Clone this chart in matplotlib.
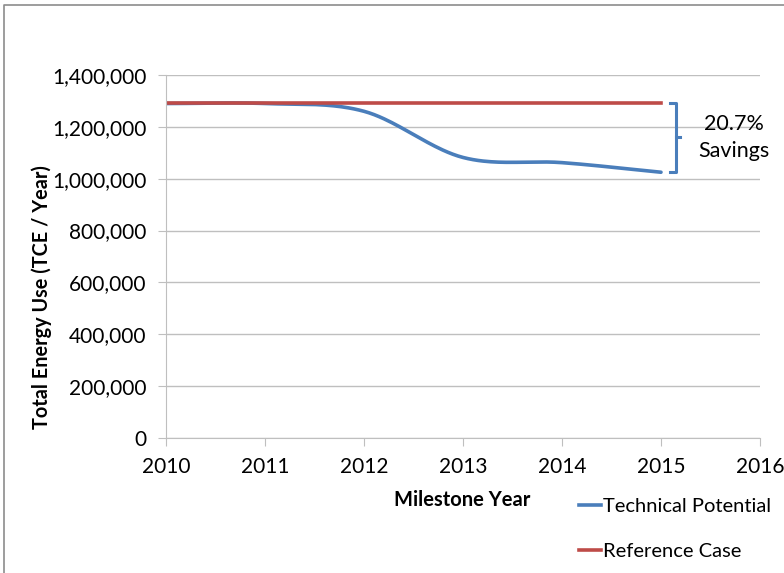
import numpy as np
import matplotlib.pyplot as plt
from matplotlib.lines import Line2D

years = [2010, 2011, 2012, 2013, 2014, 2015]
technical = [1290000, 1290000, 1260000, 1082000, 1062000, 1025000]
reference = [1293000, 1293000, 1293000, 1293000, 1293000, 1293000]
savings_label = "20.7%\nSavings"

plt.rcParams['font.family'] = ['Lato', 'DejaVu Sans']


def catmull_rom(x, y, n=40):
    # smooth curve through the points, like a spreadsheet "smoothed line"
    x = np.asarray(x, float)
    y = np.asarray(y, float)
    px = np.concatenate([[2 * x[0] - x[1]], x, [2 * x[-1] - x[-2]]])
    py = np.concatenate([[2 * y[0] - y[1]], y, [2 * y[-1] - y[-2]]])
    xs, ys = [], []
    t = np.linspace(0, 1, n)
    for i in range(1, len(px) - 2):
        for p, out in ((px, xs), (py, ys)):
            p0, p1, p2, p3 = p[i - 1], p[i], p[i + 1], p[i + 2]
            out.extend(0.5 * ((2 * p1) + (-p0 + p2) * t
                              + (2 * p0 - 5 * p1 + 4 * p2 - p3) * t ** 2
                              + (-p0 + 3 * p1 - 3 * p2 + p3) * t ** 3))
    return np.array(xs), np.array(ys)


fig = plt.figure(figsize=(7.84, 5.73), dpi=100)
ax = fig.add_axes([166 / 784, 1 - 438 / 573, 594 / 784, 363 / 573])

blue = '#4a7ebb'
red = '#be4b48'
sx, sy = catmull_rom(years, technical)
ax.plot(sx, sy, color=blue, lw=2.6, solid_capstyle='round')
ax.plot(years, reference, color=red, lw=2.6)

ax.set_xlim(2010, 2016)
ax.set_ylim(0, 1400000)
ax.set_xticks(range(2010, 2017))
ax.set_yticks(range(0, 1400001, 200000))
ax.yaxis.set_major_formatter(plt.FuncFormatter(lambda v, p: f'{int(v):,}'))
ax.grid(axis='y', color='#bfbfbf', lw=1)
ax.set_axisbelow(True)
for s in ['top', 'right']:
    ax.spines[s].set_visible(False)
for s in ['left', 'bottom']:
    ax.spines[s].set_color('#bfbfbf')
ax.tick_params(axis='both', colors='#bfbfbf', labelcolor='black',
               labelsize=15, length=6, direction='out')
ax.tick_params(axis='x', pad=8)
ax.tick_params(axis='y', pad=8)

ax.set_xlabel('Milestone Year', fontsize=14.5, fontweight='bold')
ax.xaxis.set_label_coords(0.499, -0.143)
ax.set_ylabel('Total Energy Use (TCE / Year)', fontsize=14.3, fontweight='bold')
ax.yaxis.set_label_coords(-0.192, 0.388)

# bracket showing the gap between the two cases in 2015
top = reference[-1]
bot = technical[-1]
mid = (top + bot) / 2
bx = 2015.152
ax.plot([2015.09, bx, bx, 2015.09], [top, top, bot, bot], color=blue, lw=2.2,
        clip_on=False, solid_joinstyle='round')
ax.plot([bx, 2015.19], [mid, mid], color=blue, lw=2.2, clip_on=False)
ax.text(2015.74, mid, savings_label, ha='center', va='center', fontsize=15.5,
        linespacing=1.4)

handles = [Line2D([], [], color=blue, lw=2.6), Line2D([], [], color=red, lw=2.6)]
fig.legend(handles, ['Technical Potential', 'Reference Case'],
           loc='upper left', bbox_to_anchor=(569 / 784, 1 - 488 / 573),
           frameon=False, fontsize=14.5, handlelength=1.1, handletextpad=0.1,
           labelspacing=1.4, borderpad=0)

# outer frame
fig.add_artist(Line2D([4 / 784, 4 / 784, 1], [0, 1 - 5 / 573, 1 - 5 / 573],
                      transform=fig.transFigure, color='#8c8c8c', lw=1.2))

fig.savefig('out.png', dpi=100)
